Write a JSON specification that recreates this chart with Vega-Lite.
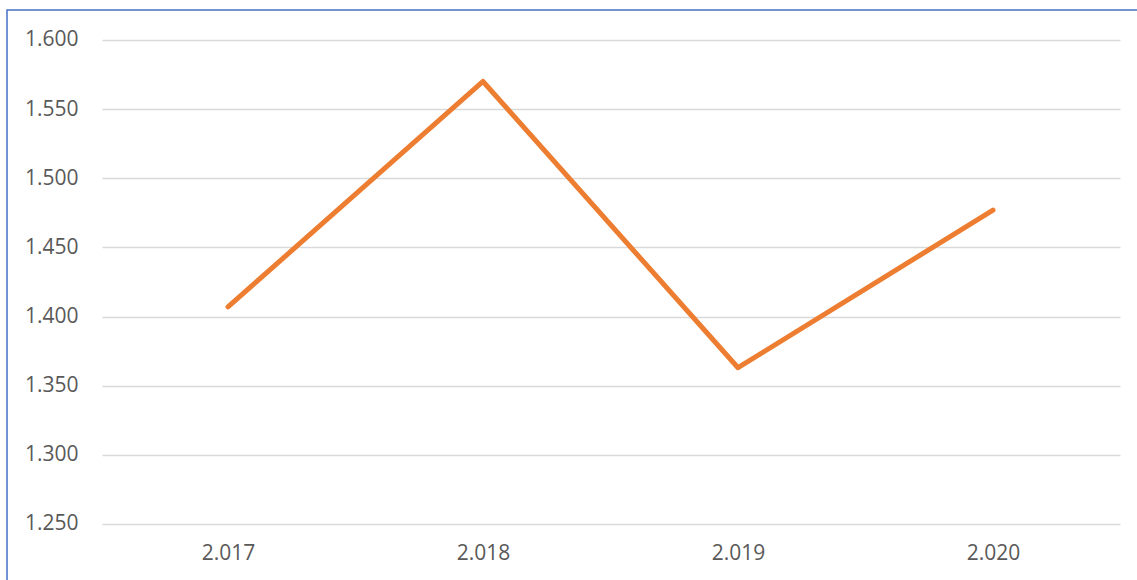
{
  "$schema": "https://vega.github.io/schema/vega-lite/v6.json",
  "width": 1140,
  "height": 580,
  "autosize": "none",
  "padding": {"left": 7, "top": 10, "right": 0, "bottom": 0},
  "background": "white",
  "config": {
    "locale": {"number": {"decimal": ",", "thousands": ".", "grouping": [3], "currency": ["", " €"]}},
    "view": {"stroke": "#4472C4", "strokeWidth": 1.5},
    "font": "Open Sans"
  },
  "data": {
    "values": [
      {"year": 2017, "value": 1407},
      {"year": 2018, "value": 1570},
      {"year": 2019, "value": 1363},
      {"year": 2020, "value": 1477}
    ]
  },
  "mark": {"type": "line", "color": "#ED7D31", "strokeWidth": 5, "strokeCap": "round", "strokeJoin": "round"},
  "encoding": {
    "x": {
      "field": "year",
      "type": "quantitative",
      "scale": {"domain": [2016.1333, 2020.6039], "nice": false, "zero": false},
      "axis": {
        "orient": "bottom",
        "offset": -66,
        "values": [2017, 2018, 2019, 2020],
        "format": ",.0f",
        "domain": false,
        "ticks": false,
        "grid": false,
        "labelPadding": 18,
        "labelFontSize": 21,
        "labelColor": "#595959",
        "labelFont": "Open Sans",
        "title": null,
        "zindex": 0
      }
    },
    "y": {
      "field": "value",
      "type": "quantitative",
      "scale": {"domain": [1202.27, 1621.69], "nice": false, "zero": false},
      "axis": {
        "orient": "left",
        "offset": -1113,
        "values": [1250, 1300, 1350, 1400, 1450, 1500, 1550, 1600],
        "format": ",.0f",
        "domain": false,
        "grid": false,
        "ticks": true,
        "tickSize": 1018,
        "tickColor": "#D9D9D9",
        "tickWidth": 1.4,
        "labelPadding": 24,
        "labelFontSize": 21,
        "labelColor": "#595959",
        "labelFont": "Open Sans",
        "title": null,
        "zindex": 0
      }
    }
  }
}
